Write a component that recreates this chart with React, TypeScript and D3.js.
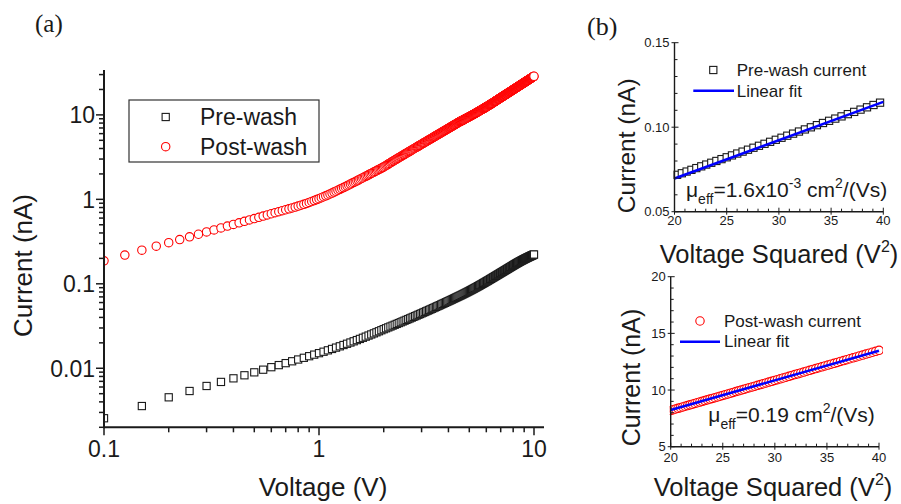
import React from 'react';
import * as d3 from 'd3';

// Voltage sweeps (V): pre-wash every 0.05 V, post-wash every 0.025 V, both from 0.1 V to 10 V
const preStart = 0.1;
const preStep = 0.05;
const postStart = 0.1;
const postStep = 0.025;

// Pre-wash current (nA), one value per sweep step
const preCurrent = [
  0.00256, 0.00357, 0.00453, 0.00538, 0.00617, 0.00689, 0.0076, 0.00826, 0.00895, 0.00962,
  0.0103, 0.0109, 0.0115, 0.0121, 0.0127, 0.0133, 0.0139, 0.0145, 0.0151,
  0.0157, 0.01631, 0.01693, 0.01756, 0.0182, 0.01885, 0.01951, 0.02018, 0.02086, 0.02155,
  0.02225, 0.02296, 0.02368, 0.02441, 0.02515, 0.0259, 0.02666, 0.02743, 0.02821, 0.029,
  0.02974, 0.03049, 0.03123, 0.03199, 0.03275, 0.03351, 0.03428, 0.03505, 0.03583, 0.03661,
  0.0374, 0.03819, 0.03899, 0.03979, 0.0406, 0.04141, 0.04223, 0.04305, 0.04387, 0.0447,
  0.04554, 0.04638, 0.04722, 0.04807, 0.04893, 0.04978, 0.05065, 0.05152, 0.05239, 0.05327,
  0.05415, 0.05504, 0.05593, 0.05683, 0.05773, 0.05863, 0.05954, 0.06046, 0.06138, 0.06231,
  0.06324, 0.06417, 0.06511, 0.06605, 0.067, 0.06796, 0.06892, 0.06988, 0.07085, 0.07182,
  0.07275, 0.07375, 0.07477, 0.0758, 0.07684, 0.07789, 0.07895, 0.08002, 0.08111, 0.0822,
  0.08331, 0.08442, 0.08555, 0.08669, 0.08784, 0.089, 0.09017, 0.09135, 0.09255, 0.09375,
  0.09497, 0.09619, 0.09743, 0.09868, 0.09994, 0.10121, 0.10249, 0.10378, 0.10509, 0.1064,
  0.10773, 0.10906, 0.11041, 0.11177, 0.11314, 0.11452,
  0.11591, 0.1173, 0.1187, 0.12011, 0.12153, 0.12295, 0.12437, 0.1258, 0.12724, 0.12869,
  0.13014, 0.1316, 0.13306, 0.13453, 0.13601, 0.13749, 0.13898, 0.14048, 0.14198, 0.14349,
  0.145, 0.14652, 0.14805, 0.14959, 0.15113, 0.15267, 0.15423, 0.15578, 0.15735, 0.15892,
  0.1605, 0.16208, 0.16367, 0.16527,
  0.16687, 0.16845, 0.17003, 0.1716, 0.17316, 0.17471, 0.17626, 0.17779, 0.17932, 0.18083,
  0.18234, 0.18384, 0.18533, 0.18681, 0.18829, 0.18975, 0.19121, 0.19265, 0.19409, 0.19552,
  0.19694, 0.19835, 0.19976, 0.20115, 0.20254, 0.20391, 0.20528, 0.20664, 0.20799, 0.20933,
  0.21067, 0.21199, 0.21331, 0.21461, 0.21591, 0.2172, 0.21848, 0.21975, 0.22102, 0.22227,
];

// Post-wash current (nA), one value per sweep step
const postCurrent = [
  0.187, 0.219, 0.25, 0.279, 0.307, 0.334, 0.36, 0.386, 0.411, 0.435, 0.459, 0.482, 0.505,
  0.527, 0.549, 0.571, 0.592, 0.613, 0.634, 0.654, 0.675, 0.695, 0.714, 0.734, 0.753,
  0.772, 0.792, 0.811, 0.832, 0.852, 0.874, 0.896, 0.919, 0.943, 0.968, 0.993, 1.019,
  1.046, 1.073, 1.101, 1.129, 1.158, 1.188, 1.218, 1.249, 1.281, 1.313, 1.346, 1.379,
  1.413, 1.447, 1.481, 1.516, 1.551, 1.586, 1.621, 1.657, 1.693, 1.729, 1.765, 1.802, 1.839, 1.876,
  1.913, 1.951, 1.989, 2.027, 2.065, 2.104, 2.143, 2.182, 2.221, 2.261, 2.301, 2.341, 2.381, 2.422,
  2.47, 2.517, 2.566, 2.614, 2.662, 2.711, 2.76, 2.809, 2.858, 2.908,
  2.958, 3.008, 3.058, 3.108, 3.159, 3.21, 3.261, 3.312, 3.364, 3.416,
  3.468, 3.52, 3.572, 3.625, 3.678, 3.731, 3.784, 3.838, 3.892, 3.945,
  4.0, 4.054, 4.109, 4.164, 4.219, 4.274, 4.329, 4.385, 4.441, 4.497,
  4.553, 4.61, 4.667, 4.724, 4.781, 4.839, 4.896, 4.954, 5.012, 5.071,
  5.129, 5.188, 5.247, 5.306, 5.365, 5.425, 5.485, 5.545, 5.605, 5.666,
  5.727, 5.788, 5.849, 5.91, 5.972, 6.034, 6.096, 6.158, 6.22, 6.283,
  6.346, 6.409, 6.472, 6.536, 6.6, 6.664, 6.728, 6.793, 6.857, 6.922,
  6.987, 7.053, 7.118, 7.184, 7.25, 7.316, 7.382, 7.449, 7.516, 7.583,
  7.65, 7.718, 7.786, 7.854, 7.922, 7.99, 8.059, 8.128, 8.197,
  8.266, 8.326, 8.386, 8.447, 8.507, 8.569, 8.63, 8.692, 8.754, 8.816,
  8.879, 8.942, 9.006, 9.069, 9.134, 9.198, 9.263, 9.328, 9.393, 9.459,
  9.525, 9.591, 9.658, 9.725, 9.793, 9.86, 9.929, 9.997, 10.066, 10.135,
  10.204, 10.274, 10.344, 10.414, 10.485, 10.556, 10.627, 10.699, 10.771, 10.844,
  10.916, 10.989, 11.063, 11.136, 11.21, 11.285, 11.36, 11.435, 11.51, 11.586,
  11.662, 11.738, 11.815, 11.892, 11.969, 12.047, 12.125, 12.203, 12.282, 12.361,
  12.44, 12.52, 12.6, 12.68, 12.761, 12.842, 12.923, 13.005, 13.087, 13.169,
  13.252, 13.335, 13.418, 13.502,
  13.59, 13.68, 13.77, 13.86, 13.94, 14.03, 14.12, 14.21, 14.3, 14.39,
  14.48, 14.57, 14.66, 14.75, 14.84, 14.94, 15.03, 15.12, 15.21, 15.3,
  15.4, 15.49, 15.58, 15.67, 15.77, 15.86, 15.95, 16.05, 16.14, 16.23,
  16.33, 16.42, 16.52, 16.61, 16.71, 16.8, 16.9, 17.0, 17.09, 17.19,
  17.28, 17.38, 17.48, 17.57, 17.67, 17.77, 17.87, 17.96, 18.06, 18.16,
  18.26, 18.36, 18.46, 18.56, 18.66, 18.75, 18.85, 18.95, 19.05, 19.16,
  19.26, 19.36, 19.46, 19.56, 19.66, 19.76, 19.86, 19.97, 20.07, 20.17,
  20.27, 20.38, 20.48, 20.58, 20.69, 20.79, 20.89, 21.0, 21.1, 21.21,
  21.31, 21.42, 21.52, 21.63, 21.73, 21.84, 21.94, 22.05, 22.16, 22.26,
  22.37, 22.48, 22.58, 22.69, 22.8, 22.91, 23.01, 23.12, 23.23, 23.34,
  23.45, 23.56, 23.67, 23.78, 23.89, 24.0, 24.11, 24.22, 24.33, 24.44,
  24.55, 24.66, 24.77, 24.88, 24.99, 25.11, 25.22, 25.33, 25.44, 25.56,
  25.67, 25.78, 25.9, 26.01, 26.12, 26.24, 26.35, 26.47, 26.58, 26.69,
  26.81, 26.93, 27.04, 27.16, 27.27, 27.39, 27.5, 27.62, 27.74, 27.86,
  27.97, 28.09, 28.21, 28.32, 28.44, 28.56, 28.68,
];

// Linear fits of current against V^2 (nA, nA/V^2)
const preFitSlope = 0.002265;
const preFitIntercept = 0.0244;
const postFitSlope = 0.2615;
const postFitIntercept = 3.01;

// Tick labels
const xTicksA = [0.1, 1, 10];
const yTicksA = [0.01, 0.1, 1, 10];
const sqTicks = [20, 25, 30, 35, 40];
const preTicksB = [0.05, 0.1, 0.15];
const postTicksB = [5, 10, 15, 20];
const seriesNames = ['Pre-wash', 'Post-wash'];

const SANS = "'Liberation Sans', Arial, Helvetica, sans-serif";
const SERIF = "'Liberation Serif', 'Times New Roman', serif";
const INK = '#1a1a1a';
const RED = '#ff0000';
const BLUE = '#0000ff';

const prePoints = preCurrent.map((c, i) => ({ v: +(preStart + i * preStep).toFixed(3), c }));
const postPoints = postCurrent.map((c, i) => ({ v: +(postStart + i * postStep).toFixed(3), c }));

const isDecade = (t: number) => Math.abs(Math.log10(t) - Math.round(Math.log10(t))) < 1e-6;
const fmtLog = (t: number) => (t >= 1 ? String(Math.round(t)) : String(+t.toPrecision(1)));

function Square({ x, y, s = 7.2 }: { x: number; y: number; s?: number }) {
  return <rect x={x - s / 2} y={y - s / 2} width={s} height={s} fill="#fff" stroke={INK} strokeWidth={1.1} />;
}
function Ring({ x, y, r = 4.2 }: { x: number; y: number; r?: number }) {
  return <circle cx={x} cy={y} r={r} fill="#fff" stroke={RED} strokeWidth={1.1} />;
}

function PanelA() {
  const x = d3.scaleLog().domain([0.1, 11.13]).range([104, 544]);
  const y = d3.scaleLog().domain([0.002, 34]).range([427.3, 70]);
  const [x0, x1] = x.range();
  const [y0, y1] = y.range();
  const xt = x.ticks();
  const yt = y.ticks();
  return (
    <g>
      <clipPath id="clipA">
        <rect x={x0} y={y1} width={x1 - x0} height={y0 - y1} />
      </clipPath>
      <g clipPath="url(#clipA)">
        {prePoints.map((p, i) => (
          <Square key={'p' + i} x={x(p.v)} y={y(p.c)} />
        ))}
        {postPoints.map((p, i) => (
          <Ring key={'q' + i} x={x(p.v)} y={y(p.c)} />
        ))}
      </g>
      {/* axes */}
      <line x1={x0} x2={x1} y1={y0} y2={y0} stroke={INK} strokeWidth={2} />
      <line x1={x0} x2={x0} y1={y0 + 1} y2={y1} stroke={INK} strokeWidth={2} />
      {xt.map((t, i) => (
        <line key={'xt' + i} x1={x(t)} x2={x(t)} y1={y0} y2={y0 + (isDecade(t) ? 8 : 5)} stroke={INK} strokeWidth={1.5} />
      ))}
      {yt.map((t, i) => (
        <line key={'yt' + i} x1={x0 - (isDecade(t) ? 8 : 5)} x2={x0} y1={y(t)} y2={y(t)} stroke={INK} strokeWidth={1.5} />
      ))}
      {xTicksA.map((t) => (
        <text key={'xl' + t} x={x(t)} y={457} textAnchor="middle" fontFamily={SANS} fontSize={23} fill={INK}>
          {fmtLog(t)}
        </text>
      ))}
      {yTicksA.map((t) => (
        <text key={'yl' + t} x={95} y={y(t) + 8.3} textAnchor="end" fontFamily={SANS} fontSize={23} fill={INK}>
          {fmtLog(t)}
        </text>
      ))}
      <text x={323} y={496} textAnchor="middle" fontFamily={SANS} fontSize={26} fill={INK}>
        Voltage (V)
      </text>
      <text transform="translate(32,265.5) rotate(-90)" textAnchor="middle" fontFamily={SANS} fontSize={26} fill={INK}>
        Current (nA)
      </text>
      {/* legend */}
      <rect x={129} y={100} width={190} height={62} fill="#fff" stroke="#333" strokeWidth={1.2} />
      <Square x={165.7} y={117} />
      <Ring x={165.7} y={146.7} />
      <text x={200} y={125} fontFamily={SANS} fontSize={23} fill={INK}>
        {seriesNames[0]}
      </text>
      <text x={200} y={155} fontFamily={SANS} fontSize={23} fill={INK}>
        {seriesNames[1]}
      </text>
      <text x={35} y={32} fontFamily={SERIF} fontSize={25} fill={INK}>
        (a)
      </text>
    </g>
  );
}

function Mobility({ x, y, value, exp }: { x: number; y: number; value: string; exp?: string }) {
  return (
    <text x={x} y={y} fontFamily={SANS} fontSize={21} fill={INK} style={{ whiteSpace: 'pre' }}>
      <tspan>μ</tspan>
      <tspan fontSize={14} dy={7}>eff</tspan>
      <tspan dy={-7}>{'=' + value}</tspan>
      {exp ? (
        <>
          <tspan fontSize={14} dy={-9}>{exp}</tspan>
          <tspan dy={9}>{' cm'}</tspan>
        </>
      ) : (
        <tspan>{' cm'}</tspan>
      )}
      <tspan fontSize={14} dy={-9}>2</tspan>
      <tspan dy={9}>/(Vs)</tspan>
    </text>
  );
}

function FitPanel(props: {
  id: string;
  xRange: [number, number];
  yDomain: [number, number];
  yRange: [number, number];
  yTicks: number[];
  yMinorStep: number;
  yFmt: (v: number) => string;
  points: { v: number; c: number }[];
  marker: 'square' | 'ring';
  slope: number;
  intercept: number;
  labelGap: number;
  xTitle: [number, number];
  yTitle: [number, number, number];
  legend: { mx: number; my: number; tx: number; ty: number; lx0: number; lx1: number; ly: number; fy: number; name: string };
  mob: { x: number; y: number; value: string; exp?: string };
}) {
  const x = d3.scaleLinear().domain([20, 40]).range(props.xRange);
  const y = d3.scaleLinear().domain(props.yDomain).range(props.yRange);
  const [x0, x1] = props.xRange;
  const [yb, yt] = props.yRange;
  const pts = props.points.filter((p) => p.v * p.v >= 19.9 && p.v * p.v <= 40.1);
  const xMinor = d3.range(20, 40.001, 1);
  const yMinor = d3.range(props.yDomain[0], props.yDomain[1] + 1e-9, props.yMinorStep);
  const fit = d3.line<number>().x((s) => x(s)).y((s) => y(props.intercept + props.slope * s));
  const L = props.legend;
  return (
    <g>
      <clipPath id={props.id}>
        <rect x={x0 - 1} y={yt} width={x1 - x0 + 5} height={yb - yt} />
      </clipPath>
      <g clipPath={`url(#${props.id})`}>
        {pts.map((p, i) =>
          props.marker === 'square' ? (
            <Square key={i} x={x(p.v * p.v)} y={y(p.c)} s={7.2} />
          ) : (
            <Ring key={i} x={x(p.v * p.v)} y={y(p.c)} r={4.2} />
          )
        )}
        <path d={fit([20, 40]) || ''} fill="none" stroke={BLUE} strokeWidth={2.6} />
      </g>
      <line x1={x0} x2={x1} y1={yb} y2={yb} stroke={INK} strokeWidth={1.4} />
      <line x1={x0} x2={x0} y1={yb} y2={yt} stroke={INK} strokeWidth={1.4} />
      {xMinor.map((t) => {
        const major = sqTicks.includes(Math.round(t));
        return <line key={'xm' + t} x1={x(t)} x2={x(t)} y1={yb + (major ? 3 : 0)} y2={yb - (major ? 4 : 3)} stroke={INK} strokeWidth={1} />;
      })}
      {yMinor.map((t, i) => {
        const major = props.yTicks.some((m) => Math.abs(m - t) < 1e-9);
        return <line key={'ym' + i} x1={x0 - (major ? 3 : 0)} x2={x0 + (major ? 4 : 3)} y1={y(t)} y2={y(t)} stroke={INK} strokeWidth={1} />;
      })}
      {sqTicks.map((t) => (
        <text key={'xl' + t} x={x(t)} y={yb + props.labelGap} textAnchor="middle" fontFamily={SANS} fontSize={13} fill={INK}>
          {t}
        </text>
      ))}
      {props.yTicks.map((t) => (
        <text key={'yl' + t} x={x0 - 5} y={y(t) + 4.6} textAnchor="end" fontFamily={SANS} fontSize={13} fill={INK}>
          {props.yFmt(t)}
        </text>
      ))}
      <text x={props.xTitle[0]} y={props.xTitle[1]} textAnchor="middle" fontFamily={SANS} fontSize={25.5} fill={INK}>
        Voltage Squared (V
        <tspan fontSize={16} dy={-11}>2</tspan>
        <tspan dy={11}>)</tspan>
      </text>
      <text
        transform={`translate(${props.yTitle[0]},${props.yTitle[1]}) rotate(-90)`}
        textAnchor="middle"
        fontFamily={SANS}
        fontSize={props.yTitle[2]}
        fill={INK}
      >
        Current (nA)
      </text>
      {props.marker === 'square' ? <Square x={L.mx} y={L.my} s={7.2} /> : <Ring x={L.mx} y={L.my} r={4.2} />}
      <text x={L.tx} y={L.ty} fontFamily={SANS} fontSize={17} fill={INK}>
        {L.name}
      </text>
      <line x1={L.lx0} x2={L.lx1} y1={L.ly} y2={L.ly} stroke={BLUE} strokeWidth={2.6} />
      <text x={L.tx} y={L.fy} fontFamily={SANS} fontSize={17} fill={INK}>
        Linear fit
      </text>
      <Mobility x={props.mob.x} y={props.mob.y} value={props.mob.value} exp={props.mob.exp} />
    </g>
  );
}

export default function App() {
  return (
    <svg
      width={901}
      height={504}
      viewBox="0 0 901 504"
      style={{ position: 'absolute', left: 0, top: 0, background: '#fff', display: 'block' }}
    >
      <rect width={901} height={504} fill="#fff" />
      <PanelA />
      <FitPanel
        id="clipB1"
        xRange={[674.5, 883.3]}
        yDomain={[0.05, 0.15]}
        yRange={[211.7, 42.7]}
        yTicks={preTicksB}
        yMinorStep={0.01}
        yFmt={d3.format('.2f')}
        points={prePoints}
        marker="square"
        slope={preFitSlope}
        intercept={preFitIntercept}
        labelGap={13}
        xTitle={[779, 263]}
        yTitle={[635, 145.8, 24.5]}
        legend={{ mx: 713.3, my: 70, tx: 736.7, ty: 76, lx0: 693.3, lx1: 734, ly: 90.7, fy: 96.7, name: 'Pre-wash current' }}
        mob={{ x: 686, y: 196.7, value: '1.6x10', exp: '-3' }}
      />
      <FitPanel
        id="clipB2"
        xRange={[670.7, 879]}
        yDomain={[5, 20]}
        yRange={[446.7, 276.7]}
        yTicks={postTicksB}
        yMinorStep={1}
        yFmt={(v) => String(v)}
        points={postPoints}
        marker="ring"
        slope={postFitSlope}
        intercept={postFitIntercept}
        labelGap={15.5}
        xTitle={[773, 496]}
        yTitle={[639.5, 377.5, 25]}
        legend={{ mx: 700, my: 321, tx: 724, ty: 326.7, lx0: 680, lx1: 720, ly: 341.7, fy: 347.3, name: 'Post-wash current' }}
        mob={{ x: 708.3, y: 421.7, value: '0.19' }}
      />
      <text x={587} y={35} fontFamily={SERIF} fontSize={26} fill={INK}>
        (b)
      </text>
    </svg>
  );
}
